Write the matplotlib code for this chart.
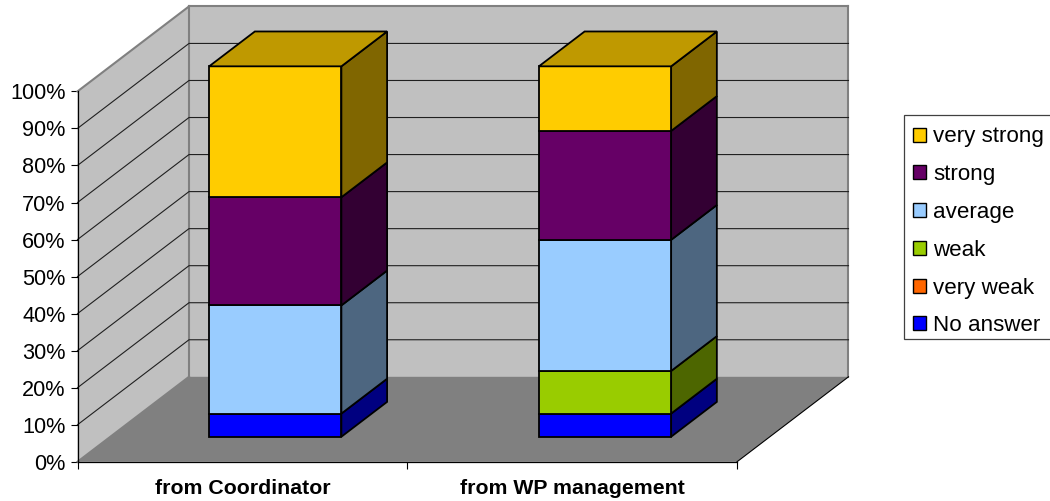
import numpy as np
import matplotlib
matplotlib.use("Agg")
import matplotlib.pyplot as plt
from matplotlib.patches import Polygon, Patch, Rectangle

plt.rcParams['font.family'] = ['Liberation Sans', 'DejaVu Sans']

categories = ["from Coordinator", "from WP management"]
series_names = ["No answer", "very weak", "weak", "average", "strong", "very strong"]
no_answer = [6.25, 6.25]
very_weak = [0, 0]
weak = [0, 11.5]
average = [29.2, 35.4]
strong = [29.2, 29.4]
very_strong = [35.35, 17.45]
y_ticks = [0, 10, 20, 30, 40, 50, 60, 70, 80, 90, 100]

face_colors = ["#0000FF", "#FF6600", "#99CC00", "#99CCFF", "#660066", "#FFCC00"]
side_colors = ["#000080", "#803300", "#4D6600", "#4D6680", "#330033", "#806600"]
top_colors = ["#0000BF", "#BF4D00", "#739900", "#7399BF", "#4D004D", "#BF9900"]

W, H = 1050, 501
fig = plt.figure(figsize=(W / 100, H / 100), dpi=100, facecolor="white")
x0, x1, y0, y100 = 77.5, 737.0, 461.8, 91.4
ax = fig.add_axes([x0 / W, 1 - y0 / H, (x1 - x0) / W, (y0 - y100) / H])
ax.set_xlim(0, 2)
ax.set_ylim(0, 100)
ax.patch.set_visible(False)

# depth of the box, expressed in data units
DX = 111.5 / ((x1 - x0) / 2)
DY = 85.0 / ((y0 - y100) / 100)


def proj(x, y, d):
    return (x + d * DX, y + d * DY)


def poly(pts, fc, ec="none", lw=0.0, z=1):
    ax.add_patch(Polygon(pts, closed=True, facecolor=fc, edgecolor=ec, linewidth=lw,
                         clip_on=False, zorder=z, joinstyle="miter"))


# walls and floor
poly([proj(0, 0, 0), proj(0, 100, 0), proj(0, 100, 1), proj(0, 0, 1)], "#C0C0C0", z=1)
poly([proj(0, 0, 1), proj(0, 100, 1), proj(2, 100, 1), proj(2, 0, 1)], "#C0C0C0", z=1)
poly([proj(0, 0, 0), proj(0, 0, 1), proj(2, 0, 1), proj(2, 0, 0)], "#808080", z=1)

GREY = "#808080"
for a, b in [((0, 100, 0), (0, 100, 1)), ((0, 100, 1), (2, 100, 1)),
             ((2, 100, 1), (2, 0, 1)), ((0, 100, 1), (0, 0, 1)), ((0, 0, 1), (0, 0, 0))]:
    p, q = proj(*a), proj(*b)
    ax.plot([p[0], q[0]], [p[1], q[1]], color=GREY, lw=1.5, clip_on=False, zorder=2,
            solid_capstyle="projecting")
p, q = proj(2, 0, 0), proj(2, 0, 1)
ax.plot([p[0], q[0]], [p[1], q[1]], color="black", lw=0.8, clip_on=False, zorder=2)

# gridlines on both walls
for t in y_ticks[1:-1]:
    pts = [proj(0, t, 0), proj(0, t, 1), proj(2, t, 1)]
    ax.plot([c[0] for c in pts], [c[1] for c in pts], color="#202020", lw=0.8,
            clip_on=False, zorder=2)

# stacked 3D bars
BAR_W = 0.401
D_A, D_B = 0.295, 0.705
stack = [no_answer, very_weak, weak, average, strong, very_strong]
xc = np.arange(len(categories)) + 0.5
EL = 1.3
zc = 5
for i, c in enumerate(xc):
    l, r = c - BAR_W / 2, c + BAR_W / 2
    base = 0.0
    for s, vals in enumerate(stack):
        v = vals[i]
        if v <= 0:
            continue
        top = base + v
        poly([proj(r, base, D_A), proj(r, top, D_A), proj(r, top, D_B), proj(r, base, D_B)],
             side_colors[s], "black", EL, zc)
        poly([proj(l, base, D_A), proj(l, top, D_A), proj(r, top, D_A), proj(r, base, D_A)],
             face_colors[s], "black", EL, zc + 1)
        base = top
        last = s
    poly([proj(l, base, D_A), proj(l, base, D_B), proj(r, base, D_B), proj(r, base, D_A)],
         top_colors[last], "black", EL, zc + 1)

# axes
for sp in ("top", "right"):
    ax.spines[sp].set_visible(False)
for sp in ("left", "bottom"):
    ax.spines[sp].set_linewidth(0.9)
    ax.spines[sp].set_color("black")
    ax.spines[sp].set_zorder(3)
ax.set_yticks(y_ticks)
ax.set_yticklabels([f"{t}%" for t in y_ticks], fontsize=15.6, color="black")
ax.tick_params(axis="y", length=5.0, width=0.8, pad=3.6)
ax.set_xticks([0, 1, 2])
ax.set_xticklabels([])
ax.tick_params(axis="x", which="major", length=5.0, width=0.8)
ax.set_xticks(xc, minor=True)
ax.set_xticklabels(categories, minor=True, fontsize=15.3, fontweight="bold", color="black")
ax.tick_params(axis="x", which="minor", length=0, pad=12.2)

# legend: frame drawn on its own so that it can run off the right edge
fig.add_artist(Rectangle((904 / W, 1 - 339 / H), 160 / W, 224 / H, transform=fig.transFigure,
                         facecolor="white", edgecolor="#404040", linewidth=0.9))
handles = [Patch(facecolor=face_colors[s], edgecolor="black", linewidth=1.0, label=series_names[s])
           for s in range(len(series_names) - 1, -1, -1)]
leg = fig.legend(handles=handles, loc="upper left",
                 bbox_to_anchor=(904 / W, 1 - 117.5 / H), bbox_transform=fig.transFigure,
                 fontsize=16.1, frameon=False, borderpad=0.4, borderaxespad=0,
                 labelspacing=0.75, handlelength=0.59, handleheight=0.59, handletextpad=0.31)

fig.savefig("out.png", dpi=100, facecolor="white")
